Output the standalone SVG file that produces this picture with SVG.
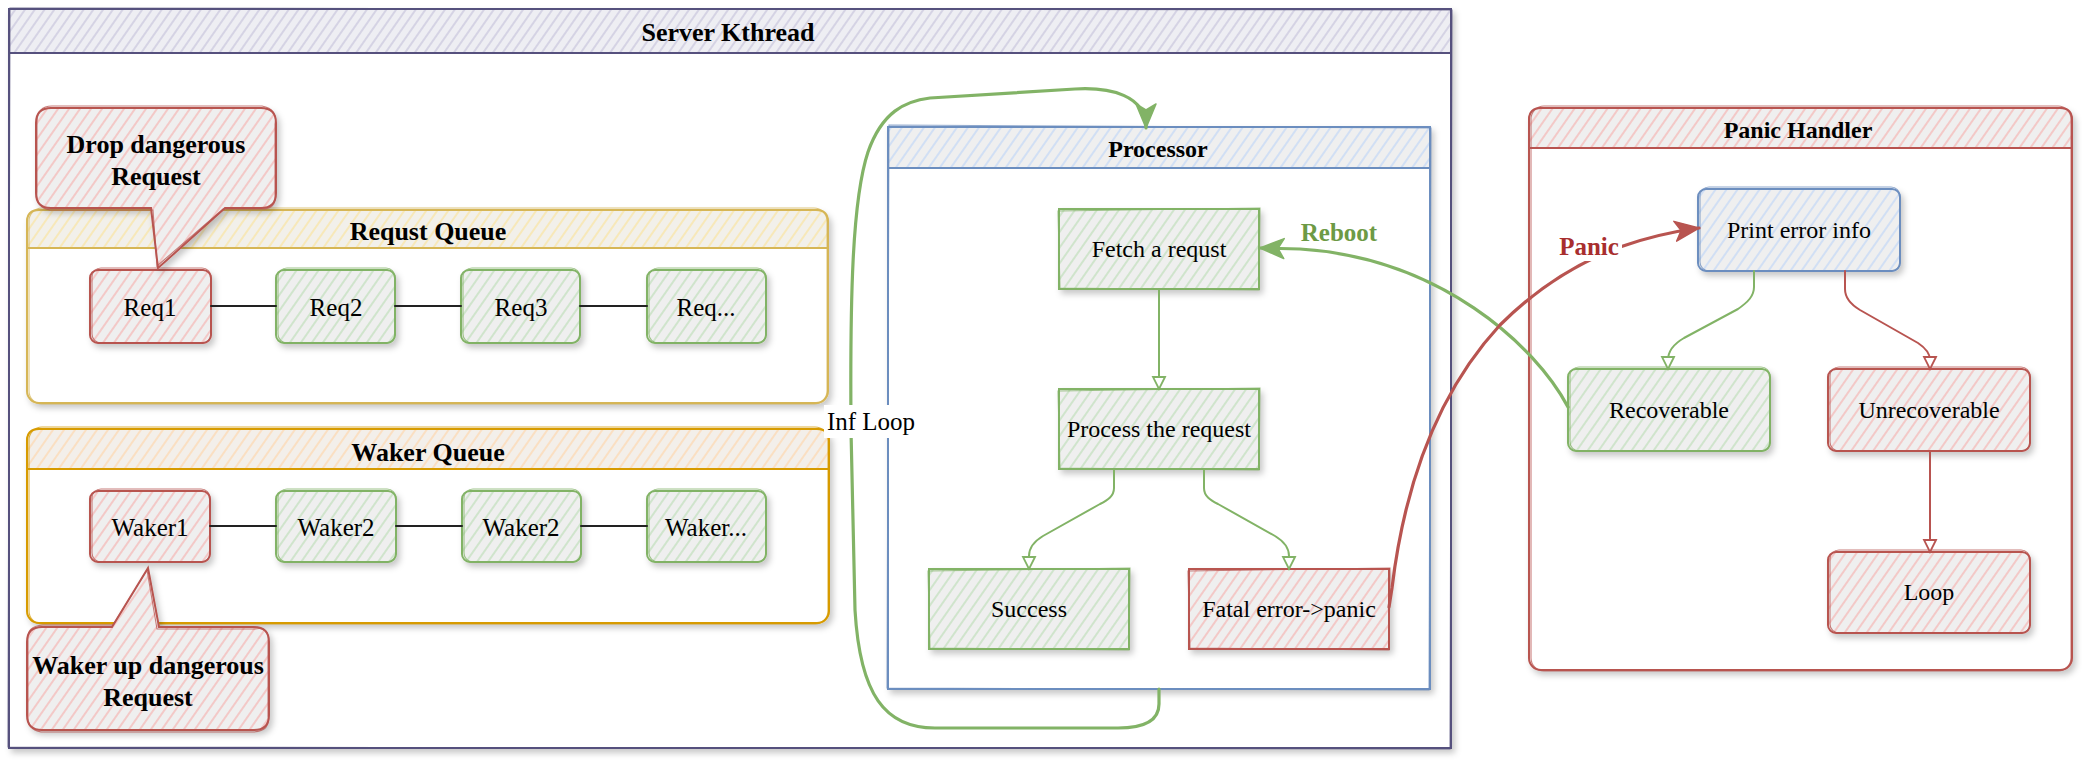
<svg xmlns="http://www.w3.org/2000/svg" width="2082" height="764" viewBox="0 0 2082 764">
<defs>
<style>
.t{font-family:"Liberation Serif","Times New Roman",serif;fill:#000;text-anchor:middle;dominant-baseline:central}
.l{font-size:25px}.lb{font-size:26px;font-weight:bold}.r{font-size:24px}.rb{font-size:24px;font-weight:bold}
.e{fill:none;stroke-width:2;stroke-linecap:round;stroke-linejoin:round}
.ew{fill:none;stroke-width:3.2;stroke-linecap:round;stroke-linejoin:round}
.sk{fill:none;stroke-width:1.1;opacity:.75}
.n{stroke-width:2}
.g{stroke:#82b366}.rd{stroke:#b85450}.bl{stroke:#6c8ebf}.pu{stroke:#56517e}.y{stroke:#d6b656}.o{stroke:#d79b00}.k{stroke:#222}
</style>
<filter id="sh" x="-10%" y="-10%" width="130%" height="130%"><feDropShadow dx="3" dy="4" stdDeviation="3" flood-color="#000" flood-opacity="0.22"/></filter>
<pattern id="hG" patternUnits="userSpaceOnUse" width="9" height="9" patternTransform="rotate(35)"><rect width="9" height="9" fill="#efefef"/><line x1="2" y1="0" x2="2" y2="9" stroke="#c8e2c3" stroke-width="1.6"/></pattern>
<pattern id="hR" patternUnits="userSpaceOnUse" width="9" height="9" patternTransform="rotate(35)"><rect width="9" height="9" fill="#efefef"/><line x1="2" y1="0" x2="2" y2="9" stroke="#f4bfbd" stroke-width="1.6"/></pattern>
<pattern id="hB" patternUnits="userSpaceOnUse" width="9" height="9" patternTransform="rotate(35)"><rect width="9" height="9" fill="#efefef"/><line x1="2" y1="0" x2="2" y2="9" stroke="#cadcf6" stroke-width="1.6"/></pattern>
<pattern id="hPu" patternUnits="userSpaceOnUse" width="8" height="8" patternTransform="rotate(35)"><rect width="8" height="8" fill="#eeeef3"/><line x1="2" y1="0" x2="2" y2="8" stroke="#cdcbe0" stroke-width="1.5"/></pattern>
<pattern id="hY" patternUnits="userSpaceOnUse" width="9" height="9" patternTransform="rotate(35)"><rect width="9" height="9" fill="#f2f0ea"/><line x1="2" y1="0" x2="2" y2="9" stroke="#f9e7ad" stroke-width="1.6"/></pattern>
<pattern id="hO" patternUnits="userSpaceOnUse" width="9" height="9" patternTransform="rotate(35)"><rect width="9" height="9" fill="#f3efea"/><line x1="2" y1="0" x2="2" y2="9" stroke="#fcdcb8" stroke-width="1.6"/></pattern>
<marker id="aOG" markerUnits="userSpaceOnUse" markerWidth="16" markerHeight="16" viewBox="0 0 16 16" refX="14" refY="8" orient="auto"><path d="M2,2 L14,8 L2,14 Z" fill="#fff" stroke="#82b366" stroke-width="1.8"/></marker>
<marker id="aOR" markerUnits="userSpaceOnUse" markerWidth="16" markerHeight="16" viewBox="0 0 16 16" refX="14" refY="8" orient="auto"><path d="M2,2 L14,8 L2,14 Z" fill="#fff" stroke="#b85450" stroke-width="1.8"/></marker>
<marker id="aCG" markerUnits="userSpaceOnUse" markerWidth="28" markerHeight="24" viewBox="0 0 28 24" refX="25" refY="12" orient="auto"><path d="M1,2 L25,12 L1,22 L7,12 Z" fill="#82b366" stroke="#82b366" stroke-width="1.5" stroke-linejoin="round"/></marker>
<marker id="aCR" markerUnits="userSpaceOnUse" markerWidth="28" markerHeight="24" viewBox="0 0 28 24" refX="25" refY="12" orient="auto"><path d="M1,2 L25,12 L1,22 L7,12 Z" fill="#b85450" stroke="#b85450" stroke-width="1.5" stroke-linejoin="round"/></marker>
</defs>
<rect width="2082" height="764" fill="#fff"/>

<g id="server-kthread">
<rect x="9" y="9" width="1442" height="739" fill="#fff" class="n pu" filter="url(#sh)"/>
<rect x="9" y="9" width="1442" height="44" fill="url(#hPu)" class="n pu"/>
<path d="M10,8 L1452,10 L1450,749 L8,747 Z" class="sk pu"/>
<text x="728" y="32" class="t lb">Server Kthread</text>
</g>

<g id="requst-queue">
<rect x="27" y="210" width="801" height="193" rx="12" fill="#fff" class="n y" filter="url(#sh)"/>
<path d="M27,248 V222 Q27,210 39,210 H816 Q828,210 828,222 V248 Z" fill="url(#hY)" class="n y"/>
<rect x="29" y="208" width="798" height="196" rx="13" class="sk y"/>
<text x="428" y="231" class="t lb">Requst Queue</text>
</g>

<g id="waker-queue">
<rect x="27" y="429" width="802" height="194" rx="12" fill="#fff" class="n o" filter="url(#sh)"/>
<path d="M27,469 V441 Q27,429 39,429 H817 Q829,429 829,441 V469 Z" fill="url(#hO)" class="n o"/>
<rect x="29" y="427" width="799" height="197" rx="13" class="sk o"/>
<text x="428" y="452" class="t lb">Waker Queue</text>
</g>

<g id="req1"><rect x="90" y="270" width="121" height="73" rx="8" fill="url(#hR)" class="n rd" filter="url(#sh)"/><rect x="92" y="268" width="119" height="75" rx="9" class="sk rd"/><text x="150" y="307" class="t l">Req1</text></g>
<g id="req2"><rect x="276" y="270" width="119" height="73" rx="8" fill="url(#hG)" class="n g" filter="url(#sh)"/><rect x="278" y="268" width="117" height="75" rx="9" class="sk g"/><text x="336" y="307" class="t l">Req2</text></g>
<g id="req3"><rect x="461" y="270" width="119" height="73" rx="8" fill="url(#hG)" class="n g" filter="url(#sh)"/><rect x="463" y="268" width="117" height="75" rx="9" class="sk g"/><text x="521" y="307" class="t l">Req3</text></g>
<g id="req-more"><rect x="647" y="270" width="119" height="73" rx="8" fill="url(#hG)" class="n g" filter="url(#sh)"/><rect x="649" y="268" width="117" height="75" rx="9" class="sk g"/><text x="706" y="307" class="t l">Req...</text></g>

<g id="waker1"><rect x="90" y="491" width="120" height="71" rx="8" fill="url(#hR)" class="n rd" filter="url(#sh)"/><rect x="92" y="489" width="118" height="73" rx="9" class="sk rd"/><text x="150" y="527" class="t l">Waker1</text></g>
<g id="waker2"><rect x="276" y="491" width="120" height="71" rx="8" fill="url(#hG)" class="n g" filter="url(#sh)"/><rect x="278" y="489" width="118" height="73" rx="9" class="sk g"/><text x="336" y="527" class="t l">Waker2</text></g>
<g id="waker2b"><rect x="462" y="491" width="119" height="71" rx="8" fill="url(#hG)" class="n g" filter="url(#sh)"/><rect x="464" y="489" width="117" height="73" rx="9" class="sk g"/><text x="521" y="527" class="t l">Waker2</text></g>
<g id="waker-more"><rect x="647" y="491" width="119" height="71" rx="8" fill="url(#hG)" class="n g" filter="url(#sh)"/><rect x="649" y="489" width="117" height="73" rx="9" class="sk g"/><text x="706" y="527" class="t l">Waker...</text></g>

<g id="drop-callout">
<path d="M51,108 H261 Q276,108 276,123 V193 Q276,208 261,208 H225 L158,268 L151,208 H51 Q36,208 36,193 V123 Q36,108 51,108 Z" fill="url(#hR)" class="n rd" filter="url(#sh)"/>
<path d="M52,106 H262 Q278,109 275,124 V194 Q277,210 260,209 H223 L157,266 L153,210 H50 Q35,207 37,192 V122 Q37,106 52,106 Z" class="sk rd"/>
<text x="156" y="144" class="t lb">Drop dangerous</text>
<text x="156" y="176" class="t lb">Request</text>
</g>

<g id="waker-callout">
<path d="M42,627 H112 L148,568 L159,627 H254 Q269,627 269,642 V715 Q269,730 254,730 H42 Q27,730 27,715 V642 Q27,627 42,627 Z" fill="url(#hR)" class="n rd" filter="url(#sh)"/>
<path d="M43,625 H113 L147,570 L157,629 H255 Q270,626 268,643 V716 Q271,731 253,732 H41 Q26,729 28,714 V641 Q26,626 43,625 Z" class="sk rd"/>
<text x="148" y="665" class="t lb">Waker up dangerous</text>
<text x="148" y="697" class="t lb">Request</text>
</g>

<g id="processor">
<rect x="888" y="127" width="542" height="562" fill="#fff" class="n bl" filter="url(#sh)"/>
<rect x="888" y="127" width="542" height="41" fill="url(#hB)" class="n bl"/>
<path d="M889,125 L1431,128 L1429,690 L887,688 Z" class="sk bl"/>
<text x="1158" y="149" class="t rb">Processor</text>
</g>

<g id="fetch"><rect x="1059" y="209" width="200" height="80" fill="url(#hG)" class="n g" filter="url(#sh)"/><path d="M1058,211 L1260,208 L1259,290 L1060,288 Z" class="sk g"/><text x="1159" y="249" class="t r">Fetch a requst</text></g>
<g id="process"><rect x="1059" y="389" width="200" height="80" fill="url(#hG)" class="n g" filter="url(#sh)"/><path d="M1058,391 L1260,388 L1259,470 L1060,468 Z" class="sk g"/><text x="1159" y="429" class="t r">Process the request</text></g>
<g id="success"><rect x="929" y="569" width="200" height="80" fill="url(#hG)" class="n g" filter="url(#sh)"/><path d="M928,571 L1130,568 L1129,650 L930,648 Z" class="sk g"/><text x="1029" y="609" class="t r">Success</text></g>
<g id="fatal"><rect x="1189" y="569" width="200" height="80" fill="url(#hR)" class="n rd" filter="url(#sh)"/><path d="M1188,571 L1390,568 L1389,650 L1190,648 Z" class="sk rd"/><text x="1289" y="609" class="t r">Fatal error-&gt;panic</text></g>

<g id="panic-handler">
<rect x="1529" y="108" width="543" height="562" rx="12" fill="#fff" class="n rd" filter="url(#sh)"/>
<path d="M1529,148 V120 Q1529,108 1541,108 H2060 Q2072,108 2072,120 V148 Z" fill="url(#hR)" class="n rd"/>
<rect x="1531" y="106" width="540" height="565" rx="13" class="sk rd"/>
<text x="1798" y="130" class="t rb">Panic Handler</text>
</g>

<g id="print-error"><rect x="1698" y="189" width="202" height="82" rx="8" fill="url(#hB)" class="n bl" filter="url(#sh)"/><rect x="1700" y="187" width="200" height="84" rx="9" class="sk bl"/><text x="1799" y="230" class="t r">Print error info</text></g>
<g id="recoverable"><rect x="1568" y="369" width="202" height="82" rx="8" fill="url(#hG)" class="n g" filter="url(#sh)"/><rect x="1570" y="367" width="200" height="84" rx="9" class="sk g"/><text x="1669" y="410" class="t r">Recoverable</text></g>
<g id="unrecoverable"><rect x="1828" y="369" width="202" height="82" rx="8" fill="url(#hR)" class="n rd" filter="url(#sh)"/><rect x="1830" y="367" width="200" height="84" rx="9" class="sk rd"/><text x="1929" y="410" class="t r">Unrecoverable</text></g>
<g id="loop"><rect x="1828" y="552" width="202" height="81" rx="8" fill="url(#hR)" class="n rd" filter="url(#sh)"/><rect x="1830" y="550" width="200" height="83" rx="9" class="sk rd"/><text x="1929" y="592" class="t r">Loop</text></g>

<g id="connectors">
<path d="M211,306 H276 M395,306 H461 M580,306 H647" class="e k"/>
<path d="M210,526 H276 M396,526 H462 M581,526 H647" class="e k"/>
<path d="M1159,289 L1159,389" class="e g" marker-end="url(#aOG)"/>
<path d="M1114,469 L1114,488 C1114,496 1108,500 1100,504 L1043,536 C1033,542 1029,548 1029,556 L1029,569" class="e g" marker-end="url(#aOG)"/>
<path d="M1204,469 L1204,488 C1204,496 1210,500 1218,504 L1275,536 C1285,542 1289,548 1289,556 L1289,569" class="e g" marker-end="url(#aOG)"/>
<path d="M1754,271 L1754,287 C1754,296 1748,302 1738,309 L1684,338 C1672,345 1668,352 1668,360 L1668,369" class="e g" marker-end="url(#aOG)"/>
<path d="M1845,271 L1845,289 C1845,298 1850,304 1860,310 L1918,343 C1927,349 1930,354 1930,360 L1930,369" class="e rd" marker-end="url(#aOR)"/>
<path d="M1930,451 L1930,552" class="e rd" marker-end="url(#aOR)"/>
<path d="M1159,689 L1159,704 C1159,720 1145,728 1118,728 L935,728 C885,728 860,695 855,610 L851,430 C850,300 852,200 868,152 C882,112 905,101 930,98 L1075,89 C1110,87 1146,95 1146,128" class="ew g" marker-end="url(#aCG)"/>
<rect x="824" y="405" width="94" height="33" fill="#fff"/>
<text x="871" y="421" class="t l">Inf Loop</text>
<path d="M1568,407 C1535,345 1440,258 1300,249 L1260,248" class="ew g" marker-end="url(#aCG)"/>
<text x="1339" y="232" class="t" style="font-size:25px;font-weight:bold;fill:#6d9a45">Reboot</text>
<path d="M1389,607 L1392,588 C1405,480 1440,390 1500,325 C1540,285 1580,262 1620,247 C1645,238 1670,232 1699,228" class="ew rd" marker-end="url(#aCR)"/>
<rect x="1556" y="233" width="66" height="28" fill="#fff"/>
<text x="1589" y="246" class="t" style="font-size:25px;font-weight:bold;fill:#a82e2e">Panic</text>
</g>
</svg>
